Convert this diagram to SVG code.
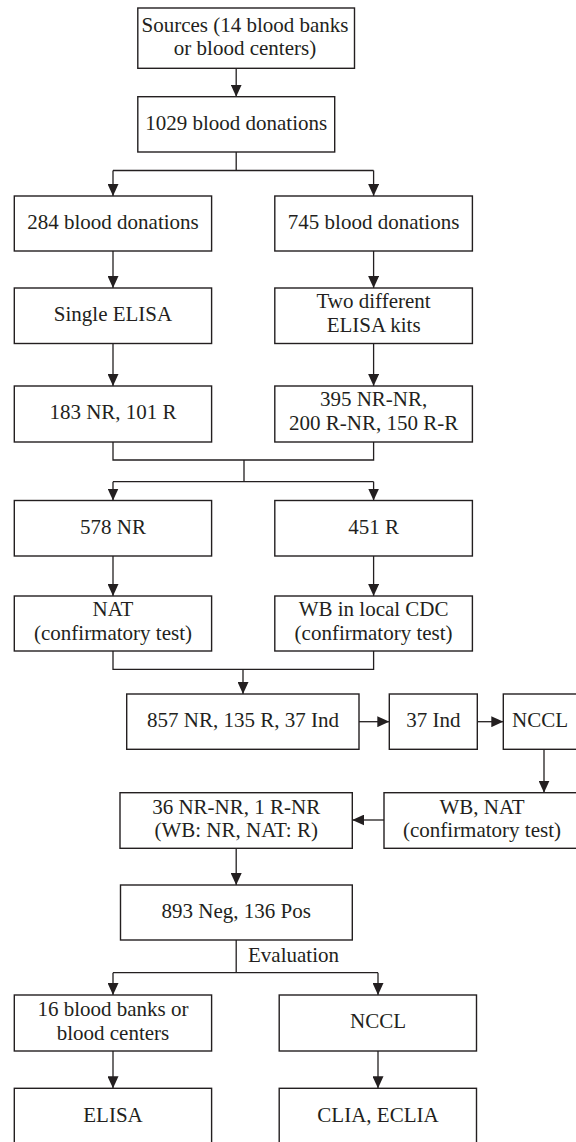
<svg xmlns="http://www.w3.org/2000/svg" width="576" height="1142" viewBox="0 0 576 1142">
<defs>
<marker id="ah" markerUnits="userSpaceOnUse" markerWidth="12" markerHeight="11" viewBox="0 0 12 11" refX="12" refY="5.5" orient="auto">
<path d="M0,0 L12,5.5 L0,11 z" fill="#231f20"/>
</marker>
<style>
.b{fill:#fff;stroke:#231f20;stroke-width:1.4}
.t{font-family:"Liberation Serif","Times New Roman",serif;font-size:21px;fill:#231f20;text-anchor:middle}
.c{fill:none;stroke:#231f20;stroke-width:1.3}
.a{fill:none;stroke:#231f20;stroke-width:1.3;marker-end:url(#ah)}
</style>
</defs>
<rect width="576" height="1142" fill="#fff"/>
<g id="connectors">
<path class="a" d="M236.2,68.3 V96.7"/>
<path class="c" d="M236.2,152 V170.5 M113,170.5 H373.6"/>
<path class="a" d="M113,170.5 V196"/>
<path class="a" d="M373.6,170.5 V196"/>
<path class="a" d="M113,251 V288"/>
<path class="a" d="M373.6,251 V288"/>
<path class="a" d="M113,343.5 V386"/>
<path class="a" d="M373.6,343.5 V386"/>
<path class="c" d="M113,442 V460 H373.6 V442 M244,460 V481.7 M113,481.7 H373.6"/>
<path class="a" d="M113,481.7 V500.5"/>
<path class="a" d="M373.6,481.7 V500.5"/>
<path class="a" d="M113,556 V596"/>
<path class="a" d="M373.6,556 V596"/>
<path class="c" d="M113,651 V669.3 H373.6 V651"/>
<path class="a" d="M243,669.3 V694"/>
<path class="a" d="M359,721.7 H389.3"/>
<path class="a" d="M477.3,721.7 H503.3"/>
<path class="a" d="M544,749.3 V792.7"/>
<path class="a" d="M384,820 H352.3"/>
<path class="a" d="M236.2,848.3 V885"/>
<path class="c" d="M236.2,940 V972.7 M113,972.7 H378"/>
<path class="a" d="M113,972.7 V995"/>
<path class="a" d="M378,972.7 V995"/>
<path class="a" d="M113,1051 V1088.3"/>
<path class="a" d="M378,1051 V1088.3"/>
</g>
<text class="t" x="248" y="962" style="text-anchor:start">Evaluation</text>
<g id="sources"><rect class="b" x="137.8" y="8" width="216.7" height="60.3"/><text class="t" x="245" y="31.7">Sources (14 blood banks</text><text class="t" x="245" y="55">or blood centers)</text></g>
<g id="n1029"><rect class="b" x="137.8" y="96.7" width="196.9" height="55.3"/><text class="t" x="236.2" y="129.7">1029 blood donations</text></g>
<g id="n284"><rect class="b" x="14.3" y="196" width="197.3" height="55"/><text class="t" x="113" y="229">284 blood donations</text></g>
<g id="n745"><rect class="b" x="274.8" y="196" width="197.6" height="55"/><text class="t" x="373.6" y="229">745 blood donations</text></g>
<g id="single"><rect class="b" x="14.3" y="288" width="197.3" height="55.5"/><text class="t" x="113" y="321">Single ELISA</text></g>
<g id="two"><rect class="b" x="274.8" y="288" width="197.6" height="55.5"/><text class="t" x="373.6" y="308">Two different</text><text class="t" x="373.6" y="332">ELISA kits</text></g>
<g id="n183"><rect class="b" x="14.3" y="386" width="197.3" height="56"/><text class="t" x="113" y="419">183 NR, 101 R</text></g>
<g id="n395"><rect class="b" x="274.8" y="386" width="197.6" height="56"/><text class="t" x="373.6" y="406">395 NR-NR,</text><text class="t" x="373.6" y="430">200 R-NR, 150 R-R</text></g>
<g id="n578"><rect class="b" x="14.3" y="500.5" width="197.3" height="55.5"/><text class="t" x="113" y="533.5">578 NR</text></g>
<g id="n451"><rect class="b" x="274.8" y="500.5" width="197.6" height="55.5"/><text class="t" x="373.6" y="533.5">451 R</text></g>
<g id="nat"><rect class="b" x="14.3" y="596" width="197.3" height="55"/><text class="t" x="113" y="616">NAT</text><text class="t" x="113" y="640">(confirmatory test)</text></g>
<g id="wb"><rect class="b" x="274.8" y="596" width="197.6" height="55"/><text class="t" x="373.6" y="616">WB in local CDC</text><text class="t" x="373.6" y="640">(confirmatory test)</text></g>
<g id="n857"><rect class="b" x="126.7" y="694" width="232.3" height="55.3"/><text class="t" x="243" y="727">857 NR, 135 R, 37 Ind</text></g>
<g id="ind37"><rect class="b" x="389.3" y="694" width="88" height="55.3"/><text class="t" x="433.3" y="727">37 Ind</text></g>
<g id="nccl1"><rect class="b" x="503.3" y="694" width="82" height="55.3"/><text class="t" x="540" y="727">NCCL</text></g>
<g id="wbnat"><rect class="b" x="384" y="792.7" width="198" height="55.6"/><text class="t" x="482" y="813.5">WB, NAT</text><text class="t" x="482" y="837">(confirmatory test)</text></g>
<g id="n36"><rect class="b" x="120" y="792.7" width="232.3" height="55.6"/><text class="t" x="236.2" y="813.5">36 NR-NR, 1 R-NR</text><text class="t" x="236.2" y="837">(WB: NR, NAT: R)</text></g>
<g id="n893"><rect class="b" x="120.5" y="885" width="231.8" height="55"/><text class="t" x="236.2" y="918">893 Neg, 136 Pos</text></g>
<g id="n16"><rect class="b" x="14.3" y="995" width="197.3" height="56"/><text class="t" x="113" y="1016">16 blood banks or</text><text class="t" x="113" y="1040">blood centers</text></g>
<g id="nccl2"><rect class="b" x="279.2" y="995" width="197.3" height="56"/><text class="t" x="378" y="1028">NCCL</text></g>
<g id="elisa"><rect class="b" x="14.3" y="1088.3" width="197.3" height="60"/><text class="t" x="113" y="1121.5">ELISA</text></g>
<g id="clia"><rect class="b" x="279.2" y="1088.3" width="197.3" height="60"/><text class="t" x="378" y="1121.5">CLIA, ECLIA</text></g>
</svg>
